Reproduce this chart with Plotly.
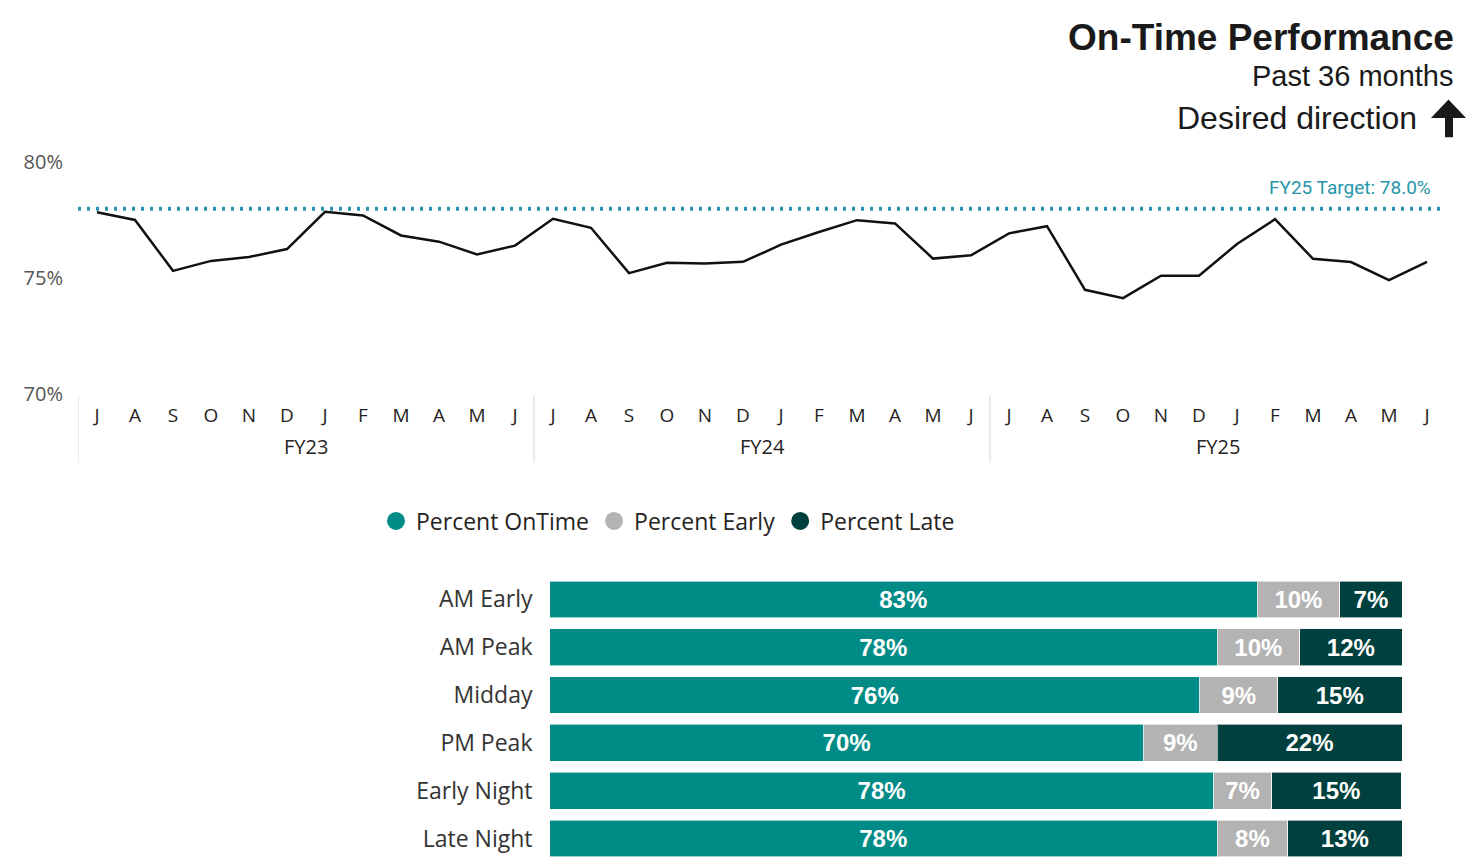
import plotly.graph_objects as go

W, H = 1475, 867
OFF = 8  # page body margin offset

# ---------------- data ----------------
fiscal_years = ["FY23", "FY24", "FY25"]
month_names = ["Jul", "Aug", "Sep", "Oct", "Nov", "Dec", "Jan", "Feb", "Mar", "Apr", "May", "Jun"]
month_letters = ["J", "A", "S", "O", "N", "D", "J", "F", "M", "A", "M", "J"]

otp_fy23 = [77.85, 77.52, 75.32, 75.75, 75.92, 76.26, 77.87, 77.71, 76.85, 76.58, 76.03, 76.41]
otp_fy24 = [77.57, 77.18, 75.22, 75.67, 75.64, 75.71, 76.45, 77.00, 77.51, 77.37, 75.85, 75.99]
otp_fy25 = [76.94, 77.25, 74.50, 74.14, 75.11, 75.11, 76.48, 77.55, 75.84, 75.70, 74.92, 75.71]

target_value = 78.0
target_label = "FY25 Target: 78.0%"
y_ticks = [70, 75, 80]
y_tick_labels = ["70%", "75%", "80%"]

periods = ["AM Early", "AM Peak", "Midday", "PM Peak", "Early Night", "Late Night"]
pct_ontime = [83.0, 78.3, 76.3, 69.7, 77.9, 78.3]
pct_early = [9.7, 9.7, 9.1, 8.6, 6.8, 8.3]
pct_late = [7.3, 12.0, 14.6, 21.7, 15.2, 13.4]

title_text = "On-Time Performance"
subtitle_text = "Past 36 months"
direction_text = "Desired direction"

# ---------------- derived ----------------
categories = [f"{fy} {m}" for fy in fiscal_years for m in month_names]
tick_text = month_letters * len(fiscal_years)
otp_values = otp_fy23 + otp_fy24 + otp_fy25

C_ONTIME = "#008B86"
C_EARLY = "#B3B3B3"
C_LATE = "#00403E"
C_TARGET = "#2696AB"
SANS = "Open Sans, Noto Sans, DejaVu Sans, sans-serif"
ARIAL = "Liberation Sans, Arial, sans-serif"


def px(x):
    return (x - OFF) / W


def py(y):
    return 1 - (y - OFF) / H


fig = go.Figure()

# line chart
fig.add_trace(go.Scatter(
    x=categories, y=otp_values, mode="lines",
    line=dict(color="#111111", width=2.5),
    showlegend=False, hoverinfo="skip",
    xaxis="x", yaxis="y",
))

# stacked bars
for name, vals, col in [("Percent OnTime", pct_ontime, C_ONTIME),
                        ("Percent Early", pct_early, C_EARLY),
                        ("Percent Late", pct_late, C_LATE)]:
    fig.add_trace(go.Bar(
        y=periods, x=vals, orientation="h", name=name,
        marker=dict(color=col, line=dict(color="rgba(255,255,255,0.6)", width=1)),
        texttemplate="%{x:.0f}%", textposition="inside", insidetextanchor="middle",
        textfont=dict(color="white", size=24, family=ARIAL, weight="bold"),
        showlegend=False, hoverinfo="skip", legendgroup=name,
        xaxis="x2", yaxis="y2",
    ))
    # legend entry with circle symbol
    fig.add_trace(go.Scatter(
        x=[None], y=[None], mode="markers", name=name, legendgroup=name,
        marker=dict(color=col, size=16, symbol="circle", line=dict(color=col, width=2)),
        showlegend=True, xaxis="x2", yaxis="y2",
    ))

# target line
fig.add_shape(type="line", xref="x domain", yref="y", x0=0, x1=1,
              y0=target_value, y1=target_value,
              line=dict(color=C_TARGET, width=4, dash="3px,6px"))
fig.add_annotation(xref="paper", yref="y", x=px(1433), y=target_value, yshift=21,
                   text=target_label, showarrow=False, xanchor="right", yanchor="middle",
                   font=dict(family="Roboto, sans-serif", size=19, color=C_TARGET))

# fiscal-year group labels and separators
for i, fy in enumerate(fiscal_years):
    mid = i * 12 + 5.5
    fig.add_annotation(xref="x", yref="paper", x=mid, y=py(446), text=fy,
                       showarrow=False, xanchor="center", yanchor="middle",
                       font=dict(family=SANS, size=20, color="#252423"))
    fig.add_shape(type="line", xref="x", yref="paper", x0=i * 12 - 0.5, x1=i * 12 - 0.5,
                  y0=py(393), y1=py(463), line=dict(color="#E4E4E4", width=1.5))

# titles
fig.add_annotation(xref="paper", yref="paper", x=px(1456), y=py(23.5), text=f"<b>{title_text}</b>",
                   showarrow=False, xanchor="right", yanchor="middle",
                   font=dict(family=ARIAL, size=37, color="#1a1a1a"))
fig.add_annotation(xref="paper", yref="paper", x=px(1456), y=py(64), text=subtitle_text,
                   showarrow=False, xanchor="right", yanchor="middle",
                   font=dict(family=ARIAL, size=29, color="#1a1a1a"))
fig.add_annotation(xref="paper", yref="paper", x=px(1419), y=py(107), text=direction_text,
                   showarrow=False, xanchor="right", yanchor="middle",
                   font=dict(family=ARIAL, size=32, color="#1a1a1a"))

# up arrow
pts = [(1448.5, 88), (1466, 107), (1453, 107), (1453, 127), (1445, 127), (1445, 107), (1431, 107)]
path = "M " + " L ".join(f"{px(x):.5f},{py(y):.5f}" for x, y in pts) + " Z"
fig.add_shape(type="path", xref="paper", yref="paper", path=path,
              fillcolor="#1a1a1a", line=dict(width=0))

fig.update_layout(
    width=W, height=H,
    margin=dict(l=0, r=0, t=0, b=0),
    paper_bgcolor="white", plot_bgcolor="white",
    barmode="stack", bargap=0.23,
    showlegend=True,
    legend=dict(orientation="h", x=px(668), xanchor="center", y=py(523), yanchor="middle",
                font=dict(family=SANS, size=23, color="#252423"),
                itemclick=False, itemdoubleclick=False, tracegroupgap=0,
                traceorder="normal", bgcolor="rgba(0,0,0,0)"),
    xaxis=dict(domain=[px(78), px(1446)], type="category",
               categoryorder="array", categoryarray=categories,
               range=[-0.5, len(categories) - 0.5],
               tickvals=categories, ticktext=tick_text,
               showgrid=False, zeroline=False, showline=False, ticks="",
               tickfont=dict(family=SANS, size=19, color="#252423"),
               ticklabelstandoff=8, fixedrange=True),
    yaxis=dict(domain=[py(392), py(153)], range=[70, 80],
               tickvals=y_ticks, ticktext=y_tick_labels,
               showgrid=False, zeroline=False, showline=False, ticks="",
               tickfont=dict(family=SANS, size=20, color="#555555"),
               ticklabelstandoff=14, fixedrange=True),
    xaxis2=dict(domain=[px(549.5), px(1402)], range=[0, 100], anchor="y2",
                visible=False, fixedrange=True),
    yaxis2=dict(domain=[0, py(579.3)], anchor="x2", type="category",
                categoryorder="array", categoryarray=periods,
                range=[5.49, -0.5],
                showgrid=False, zeroline=False, showline=False, ticks="",
                tickfont=dict(family=SANS, size=23, color="#333333"),
                ticklabelstandoff=16, fixedrange=True),
)

fig.write_html("out.html")
